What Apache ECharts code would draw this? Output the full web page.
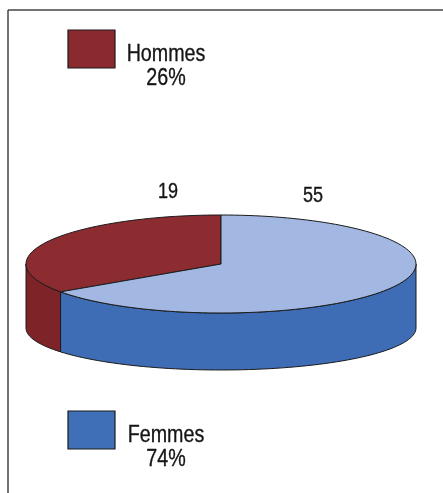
<!DOCTYPE html>
<html>
<head>
<meta charset="utf-8">
<script src="https://cdn.jsdelivr.net/npm/echarts@6/dist/echarts.min.js"></script>
<style>
  html, body { margin: 0; padding: 0; background: #fff; }
  #chart { width: 443px; height: 493px; }
</style>
</head>
<body>
<div id="chart"></div>
<script>
const categories = ['Hommes', 'Femmes'];
const values = [19, 55];
const percents = ['26%', '74%'];

const topColors = ['#8c2b30', '#a2b8e2'];
const sideColors = ['#7e2429', '#3e6db5'];
const legendColors = ['#8a2a2f', '#3f6fb6'];
const font = "'Liberation Sans', Arial, sans-serif";
const narrow = 0.82;   // the original type is a condensed face

// disc geometry (pixels)
const cx = 221, cy = 264, rx = 195, ry = 49;
const by = 328, bry = 42;   // bottom rim of the side wall
const warp = 0.78;          // the drawing widens the small slice
const labelAt = [[168, 192], [313, 196]];
const legendTop = [30, 411];

const total = values.reduce((a, b) => a + b, 0);
const bounds = [90];
let acc = 0;
values.forEach(v => {
  acc += v;
  bounds.push(90 + 360 * Math.pow(acc / total, warp));
});

function rim(a, y0, r) {
  const t = a * Math.PI / 180;
  return [cx + rx * Math.cos(t), y0 - r * Math.sin(t)];
}

function arc(a0, a1, y0, r) {
  const pts = [];
  const n = Math.max(2, Math.ceil(Math.abs(a1 - a0) / 2));
  for (let i = 0; i <= n; i++) pts.push(rim(a0 + (a1 - a0) * i / n, y0, r));
  return pts;
}

const edge = { stroke: '#1a1a1a', lineWidth: 1, lineJoin: 'round' };

function label(text, x, y, size, lh) {
  return {
    type: 'text',
    x: x, y: y,
    scaleX: narrow,
    style: {
      text: text, x: 0, y: 0,
      align: 'center', verticalAlign: 'middle',
      font: size + 'px ' + font, lineHeight: lh,
      fill: '#151515', stroke: '#151515', lineWidth: 0.35
    }
  };
}

function renderSlice(params, api) {
  const i = params.dataIndex;
  const a0 = bounds[i], a1 = bounds[i + 1];
  const children = [];
  // front wall, only the part facing us (180..360 deg)
  [[180, 360], [540, 720]].forEach(([f0, f1]) => {
    const s = Math.max(a0, f0), e = Math.min(a1, f1);
    if (e > s) {
      const pts = arc(s, e, cy, ry).concat(arc(e, s, by, bry));
      children.push({
        type: 'polygon',
        shape: { points: pts },
        style: Object.assign({ fill: sideColors[i] }, edge)
      });
    }
  });
  children.push({
    type: 'polygon',
    z2: 10,
    shape: { points: [[cx, cy]].concat(arc(a0, a1, cy, ry)) },
    style: Object.assign({ fill: topColors[i] }, edge)
  });
  children.push(label(String(api.value(1)), labelAt[i][0], labelAt[i][1], 22, 24));
  return { type: 'group', children: children };
}

const legendItems = [];
categories.forEach((c, i) => {
  legendItems.push({
    type: 'rect',
    shape: { x: 68, y: legendTop[i], width: 47, height: 38 },
    style: { fill: legendColors[i], stroke: '#1a1a1a', lineWidth: 1.2 }
  });
  legendItems.push(label(c + '\n' + percents[i], 166, legendTop[i] + 36, 24, 24));
});

const chart = echarts.init(document.getElementById('chart'), null, { renderer: 'canvas' });
chart.setOption({
  animation: false,
  graphic: [
    { type: 'line', shape: { x1: 8, y1: 10, x2: 443, y2: 10 }, style: { stroke: '#444', lineWidth: 1.5 } },
    { type: 'line', shape: { x1: 8, y1: 10, x2: 8, y2: 493 }, style: { stroke: '#444', lineWidth: 1.5 } }
  ].concat(legendItems),
  series: [{
    type: 'custom',
    coordinateSystem: 'none',
    silent: true,
    renderItem: renderSlice,
    data: values.map((v, i) => ({ name: categories[i], value: [i, v] }))
  }]
});
</script>
</body>
</html>
